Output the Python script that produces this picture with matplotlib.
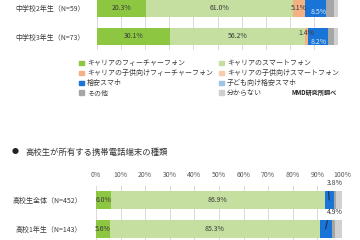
import matplotlib
matplotlib.use("Agg")
import matplotlib.pyplot as plt
from matplotlib.patches import Patch
import numpy as np

plt.rcParams['font.family'] = ['Noto Sans CJK JP', 'DejaVu Sans']

# series names (stacking order) and colours
series = ['キャリアのフィーチャーフォン', 'キャリアのスマートフォン',
          'キャリアの子供向けフィーチャーフォン', 'キャリアの子供向けスマートフォン',
          '格安スマホ', '子ども向け格安スマホ', 'その他', '分からない']
colors = ['#8dc641', '#c4dfa0', '#f4b183', '#f8cbad',
          '#1874d6', '#9dc3e6', '#a6a6a6', '#d0d0d0']

# junior high (top chart)
jhs_labels = ['中学校2年生（N=59）', '中学校3年生（N=73）']
jhs_fp = [20.3, 30.1]
jhs_sp = [61.0, 56.2]
jhs_child_fp = [5.1, 1.4]
jhs_child_sp = [0.0, 0.0]
jhs_mvno = [8.5, 8.2]
jhs_child_mvno = [0.0, 0.0]
jhs_other = [3.4, 2.6]
jhs_unknown = [1.7, 1.5]

# high school (bottom chart)
hs_labels = ['高校生全体（N=452）', '高校1年生（N=143）']
hs_fp = [6.0, 5.6]
hs_sp = [86.9, 85.3]
hs_child_fp = [0.0, 0.0]
hs_child_sp = [0.0, 0.0]
hs_mvno = [3.8, 4.9]
hs_child_mvno = [0.0, 0.0]
hs_other = [1.0, 1.2]
hs_unknown = [2.3, 3.0]

W, H = 360, 240
fig = plt.figure(figsize=(3.6, 2.4), dpi=100)


def axes_px(left, top, right, bottom):
    return fig.add_axes([left / W, 1 - bottom / H, (right - left) / W, (bottom - top) / H])


def stack(ax, cols, height):
    data = np.array(cols)
    left = np.zeros(data.shape[1])
    for vals, c in zip(data, colors):
        ax.barh([0, 1], vals, left=left, height=height, color=c, linewidth=0)
        left += vals
    return data


def style(ax):
    ax.set_xlim(0, 100)
    ax.set_xticks(range(0, 101, 10))
    ax.grid(axis='x', color='#d9d9d9', lw=0.7)
    ax.set_axisbelow(True)
    for s in ax.spines.values():
        s.set_visible(False)


fs = 5
txt = '#3b3b3b'

# ---- top chart
ax1 = axes_px(97, 0, 338, 50)
d1 = stack(ax1, [jhs_fp, jhs_sp, jhs_child_fp, jhs_child_sp,
                 jhs_mvno, jhs_child_mvno, jhs_other, jhs_unknown], 0.6)
style(ax1)
ax1.set_ylim(1.474, -0.28)
ax1.set_yticks([0, 1], jhs_labels)
ax1.tick_params(axis='y', length=0, pad=9, labelsize=fs, labelcolor=txt)
ax1.tick_params(axis='x', length=0, labelbottom=False)
cum1 = np.cumsum(d1, axis=0) - d1 / 2
for i in range(2):
    ax1.text(cum1[0, i], i, f'{d1[0, i]:.1f}%', ha='center', va='center', fontsize=fs, color=txt)
    ax1.text(cum1[1, i], i, f'{d1[1, i]:.1f}%', ha='center', va='center', fontsize=fs, color=txt)
ax1.text(cum1[2, 0], 0, f'{d1[2, 0]:.1f}%', ha='center', va='center', fontsize=fs, color=txt)
ax1.text(cum1[2, 1], 1 - 0.12, f'{d1[2, 1]:.1f}%', ha='center', va='center', fontsize=fs, color=txt)
ax1.text(cum1[4, 0] + 1.5, 0.14, f'{d1[4, 0]:.1f}%', ha='center', va='center', fontsize=fs, color='#dce9f7')
ax1.text(cum1[4, 1], 1.19, f'{d1[4, 1]:.1f}%', ha='center', va='center', fontsize=fs, color='#dce9f7')

# legend
order = [0, 2, 4, 6, 1, 3, 5, 7]
handles = [Patch(color=colors[k], label=series[k]) for k in order]
fig.legend(handles=handles, loc='upper left', bbox_to_anchor=(76 / W, 1 - 56 / H),
           ncol=2, frameon=False, fontsize=fs, handlelength=0.7, handleheight=0.7,
           handletextpad=0.4, labelspacing=0.28, columnspacing=0.9, borderpad=0,
           labelcolor=txt)
fig.text(337 / W, 1 - 92 / H, 'MMD研究所調べ', ha='right', va='center',
         fontsize=4.4, fontweight='bold', color='#222222')

# ---- bottom chart
fig.text(12 / W, 1 - 152 / H, '●', ha='left', va='center', fontsize=5, color='#222222')
fig.text(25 / W, 1 - 152 / H, '高校生が所有する携帯電話端末の種類', ha='left', va='center',
         fontsize=6, color='#333333')

ax2 = axes_px(96, 186, 342, 240)
d2 = stack(ax2, [hs_fp, hs_sp, hs_child_fp, hs_child_sp,
                 hs_mvno, hs_child_mvno, hs_other, hs_unknown], 0.62)
style(ax2)
ax2.set_ylim(1.379, -0.483)
ax2.xaxis.tick_top()
ax2.set_xticks(range(0, 101, 10), [f'{v}%' for v in range(0, 101, 10)])
ax2.tick_params(axis='x', length=0, pad=5, labelsize=fs, labelcolor='#595959')
ax2.set_yticks([0, 1], hs_labels)
ax2.tick_params(axis='y', length=0, pad=10, labelsize=fs, labelcolor=txt)
cum2 = np.cumsum(d2, axis=0) - d2 / 2
for i in range(2):
    ax2.text(cum2[0, i], i, f'{d2[0, i]:.1f}%', ha='center', va='center', fontsize=fs, color=txt)
    ax2.text(cum2[1, i], i, f'{d2[1, i]:.1f}%', ha='center', va='center', fontsize=fs, color=txt)
    ax2.annotate(f'{d2[4, i]:.1f}%', xy=(cum2[4, i], i), xytext=(97.0, i - 0.57),
                 ha='center', va='center', fontsize=fs, color=txt, annotation_clip=False,
                 arrowprops=dict(arrowstyle='-', color='#1f2f4f', lw=0.8,
                                 relpos=(0.1, 0), shrinkA=1, shrinkB=0))

fig.savefig('out.png', dpi=100)
